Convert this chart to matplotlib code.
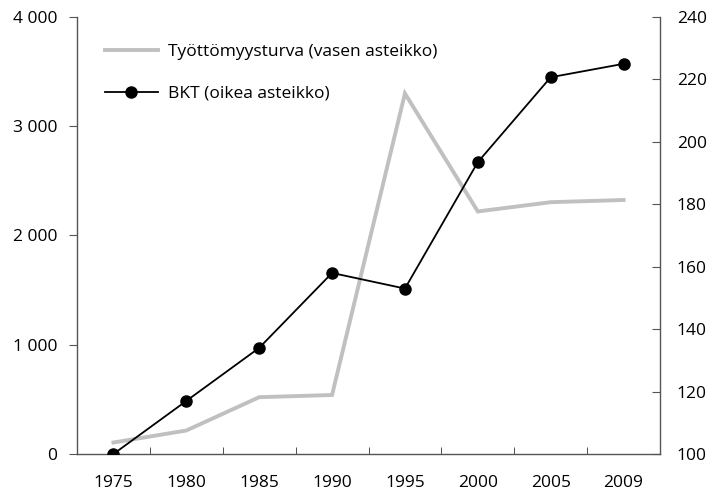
import matplotlib
matplotlib.use("Agg")
import matplotlib.pyplot as plt
from matplotlib.ticker import FixedLocator, FuncFormatter

years = ["1975", "1980", "1985", "1990", "1995", "2000", "2005", "2009"]
tyottomyysturva = [105, 215, 520, 540, 3300, 2220, 2305, 2325]
bkt = [100, 117, 134, 158, 153, 193.5, 220.7, 225]

plt.rcParams['font.family'] = ['Open Sans', 'DejaVu Sans']
FS = 12.5

fig = plt.figure(figsize=(7.14, 4.96), dpi=100)
ax = fig.add_axes([77/714, 1 - 454/496, (660-77)/714, (454-17)/496])
ax2 = ax.twinx()

x = list(range(len(years)))
l1, = ax.plot(x, tyottomyysturva, color="#c0c0c0", lw=2.8, solid_joinstyle="miter",
              label="Työttömyysturva (vasen asteikko)", zorder=2)
l2, = ax2.plot(x, bkt, color="black", lw=1.3, marker="o", markersize=8,
               label="BKT (oikea asteikko)", zorder=3)

ax.set_xlim(-0.5, len(years) - 0.5)
ax.set_ylim(0, 4000)
ax2.set_ylim(100, 240)

ax.set_yticks([0, 1000, 2000, 3000, 4000])
ax.yaxis.set_major_formatter(FuncFormatter(lambda v, p: f"{int(v):,}".replace(",", " ")))
ax2.set_yticks([100, 120, 140, 160, 180, 200, 220, 240])

ax.set_xticks(x)
ax.set_xticklabels(years)
ax.xaxis.set_minor_locator(FixedLocator([i + 0.5 for i in range(len(years))]))
ax.tick_params(axis="x", which="major", length=0, pad=15, labelsize=FS)
ax.tick_params(axis="x", which="minor", direction="in", length=5, color="#333333")
ax.tick_params(axis="y", direction="out", length=6, color="#555555", pad=8, labelsize=FS)
ax2.tick_params(axis="y", direction="in", length=6, color="#555555", pad=12, labelsize=FS)

for a in (ax, ax2):
    a.spines["top"].set_visible(False)
    for s in ("left", "right", "bottom"):
        a.spines[s].set_color("#555555")
        a.spines[s].set_linewidth(1.0)
ax.spines["right"].set_visible(False)
ax2.spines["left"].set_visible(False)
ax2.spines["bottom"].set_visible(False)

leg = ax.legend(handles=[l1, l2], loc="upper left", bbox_to_anchor=(0.022, 0.975),
                frameon=False, fontsize=FS, handlelength=3.0, handletextpad=0.6,
                labelspacing=1.5)

fig.savefig("out.png", dpi=100)
